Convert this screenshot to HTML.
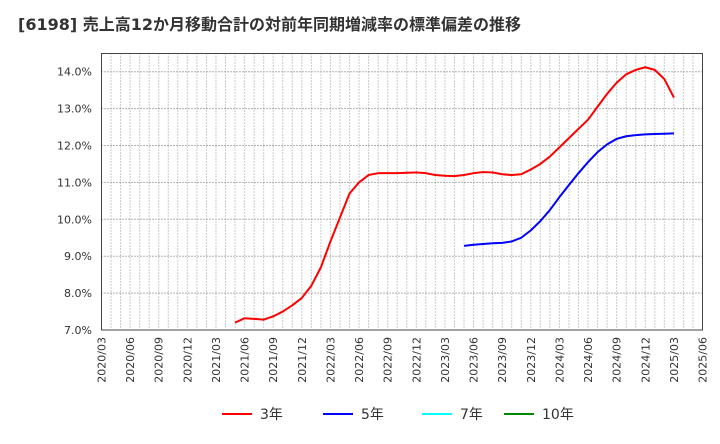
<!DOCTYPE html>
<html><head><meta charset="utf-8"><style>
body{margin:0;background:#fff;font-family:"DejaVu Sans","Noto Sans CJK JP",sans-serif;}
</style></head><body>
<svg width="720" height="440" xmlns="http://www.w3.org/2000/svg">
<text x="18" y="30" font-size="16" font-weight="bold" fill="#333" font-family="DejaVu Sans,Noto Sans CJK JP,sans-serif">[6198]  売上高12か月移動合計の対前年同期増減率の標準偏差の推移</text>
<g id="grid"></g>
<g id="yt"></g>
<g id="xt"></g>
<g id="series"></g>
<rect x="101.5" y="53.5" width="601" height="276.5" fill="none" stroke="#444" stroke-width="1"/>
<g font-size="14" fill="#333" font-family="DejaVu Sans,Noto Sans CJK JP,sans-serif">
<g><line x1="222" y1="414" x2="252" y2="414" stroke="#f00" stroke-width="2"/><text x="260" y="419">3年</text></g>
<g><line x1="323" y1="414" x2="353" y2="414" stroke="#00f" stroke-width="2"/><text x="361" y="419">5年</text></g>
<g><line x1="422" y1="414" x2="452" y2="414" stroke="#0ff" stroke-width="2"/><text x="460" y="419">7年</text></g>
<g><line x1="504" y1="414" x2="534" y2="414" stroke="#080" stroke-width="2"/><text x="542" y="419">10年</text></g>
</g>
</svg>
<script>
const yTicks=[7,8,9,10,11,12,13,14];
const xLabels=["2020/03","2020/06","2020/09","2020/12","2021/03","2021/06","2021/09","2021/12","2022/03","2022/06","2022/09","2022/12","2023/03","2023/06","2023/09","2023/12","2024/03","2024/06","2024/09","2024/12","2025/03","2025/06"];
const red3Start=14;
const red3=[7.2,7.32,7.3,7.28,7.37,7.5,7.67,7.87,8.2,8.7,9.4,10.05,10.7,11.0,11.2,11.25,11.25,11.25,11.26,11.27,11.25,11.2,11.18,11.17,11.2,11.25,11.28,11.27,11.22,11.2,11.22,11.35,11.5,11.7,11.95,12.2,12.45,12.7,13.05,13.4,13.7,13.93,14.05,14.12,14.05,13.8,13.3];
const blue5Start=38;
const blue5=[9.28,9.31,9.33,9.35,9.36,9.4,9.5,9.7,9.95,10.25,10.6,10.93,11.25,11.55,11.82,12.03,12.18,12.25,12.28,12.3,12.31,12.32,12.33];
const NS="http://www.w3.org/2000/svg";
const L=101.5,R=702.5,T=53.5,B=330,months=63;
const xs=m=>L+(R-L)*m/months;
const ys=v=>330-(v-7)*36.9;
function mk(t,a,p){const e=document.createElementNS(NS,t);for(const k in a)e.setAttribute(k,a[k]);p.appendChild(e);return e;}
const grid=document.getElementById('grid'),yt=document.getElementById('yt'),xt=document.getElementById('xt'),ser=document.getElementById('series');
for(let m=1;m<months;m++){const l=mk('line',{x1:xs(m),x2:xs(m),y1:T,y2:B,stroke:'#999','stroke-dasharray':'1,2'},grid);

}
yTicks.forEach(v=>{const y=ys(v);
if(v>7){const l=mk('line',{x1:L,x2:R,y1:y,y2:y,stroke:'#666','stroke-dasharray':'1,2'},grid);

}
const t=mk('text',{x:92,y:y+4,'text-anchor':'end','font-size':'11',fill:'#333','font-family':'DejaVu Sans,sans-serif'},yt);t.textContent=v.toFixed(1)+'%';

});
xLabels.forEach((s,i)=>{const x=xs(i*3);const t=mk('text',{transform:`translate(${x+4},337) rotate(-90)`,'text-anchor':'end','font-size':'11',fill:'#333','font-family':'DejaVu Sans,sans-serif'},xt);t.textContent=s;

});
function line(d,s,c,n){const p=mk('polyline',{points:d.map((v,i)=>xs(s+i)+','+ys(v)).join(' '),fill:'none',stroke:c,'stroke-width':2,'stroke-linejoin':'round'},ser);

}
line(red3,red3Start,'#f00','line-3y');
line(blue5,blue5Start,'#00f','line-5y');
</script>
</body></html>
